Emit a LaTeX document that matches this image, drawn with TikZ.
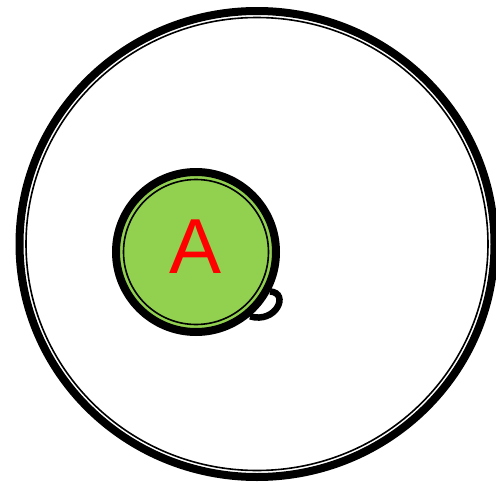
\documentclass[tikz,border=0pt]{standalone}
\usepackage{fontspec}
\setmainfont{Liberation Sans}
\definecolor{nodegreen}{HTML}{92D050}
\tikzset{
  thickring/.style={draw=black, line width=8pt},
  thinring/.style={draw=black, line width=1.6pt},
  statenode/.style={circle, fill=nodegreen, thickring, minimum size=160pt, inner sep=0pt,
    text=red, font=\fontsize{78}{78}\selectfont},
  loopline/.style={draw=black, line width=6.5pt}
}
\begin{document}
\begin{tikzpicture}[x=1pt,y=-1pt]
\useasboundingbox (0,0) rectangle (496,482);
% outer double ellipse
\coordinate (c) at (257,244);
\draw[thickring] (c) ellipse [x radius=237.5, y radius=233];
\draw[thinring] (c) ellipse [x radius=231, y radius=226.5];
% state A
\node[statenode] (A) at (196,252) {\raisebox{10pt}{A}};
\draw[thinring] (A.center) circle [radius=72.5];
% self loop
\draw[loopline] (A.-28) .. controls (290,293) and (276,324) .. (A.-50);
\end{tikzpicture}
\end{document}
